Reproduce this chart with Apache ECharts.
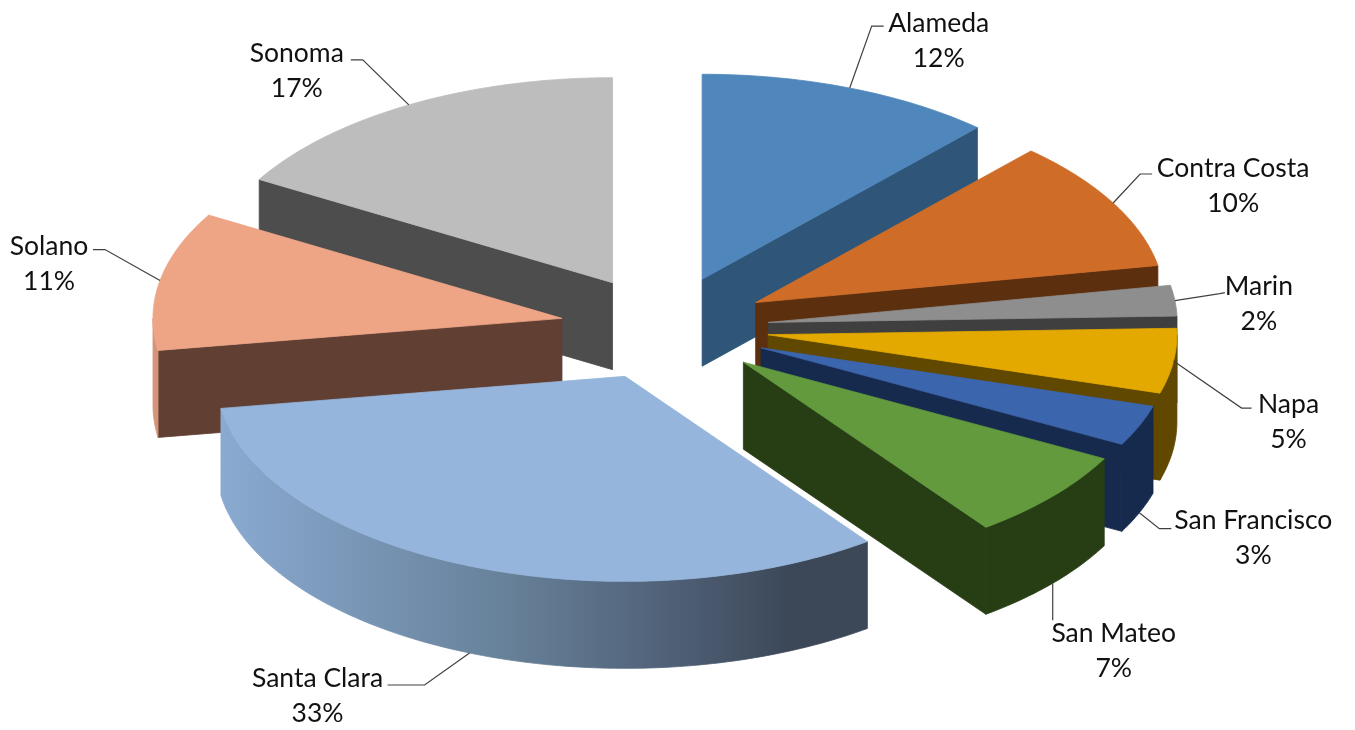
<!DOCTYPE html>
<html><head><meta charset="utf-8">
<style>html,body{margin:0;padding:0;background:#fff}#c{width:1355px;height:730px}</style>
<script src="https://cdn.jsdelivr.net/npm/echarts@6/dist/echarts.min.js"></script>
</head><body><div id="c"></div>
<script>
var counties = ['Alameda','Contra Costa','Marin','Napa','San Francisco','San Mateo','Santa Clara','Solano','Sonoma'];
var shares = [11.75, 10.35, 2.4, 5.1, 3.2, 7.1, 32.6, 10.9, 16.6];
var drawOrder = [8, 0, 1, 7, 2, 3, 4, 5, 6];
var topColors = ['#4f86bb','#cf6d28','#8e8e8e','#e3a900','#3b65ad','#629a3d','#95b5dc','#eda586','#bdbdbd'];
var wallColors = ['#2f5578','#5c2f0f','#3f3f3f','#604800','#162a4d','#273e15','#3c4858','#614033','#4d4d4d'];
var rimColors = ['#2f5578','#5c2f0f','#3f3f3f','#604800','#162a4d','#273e15','#3c4858','#d5957a','#4d4d4d'];
// Leader elbow and label centre, relative to the slice's anchor on the pie edge
var leaderElbows = [[22,-62],[27,-29],[45,-7],[68,47],[20,16],[0,37],[-45,32],[-55,-31],[-46,-45]];
var leaderEnds = [[34,-62],[39,-29],[50,-8],[78,47],[32,16],[0,37],[-82,32],[-67,-31],[-58,-45]];
var labelOffsets = [[89,-50],[120,-20],[84,0],[115,58],[114,22],[61,65],[-152,40],[-111,-20],[-112,-37]];

var CX = 664.5, CY = 328, RX = 409, RY = 205, DEPTH = 87, EXPLODE = 0.255;
var FONT = '26.5px Lato, "Open Sans", sans-serif';
var total = shares.reduce(function (a, b) { return a + b; }, 0);

function angleBefore(i) {
  var s = 0;
  for (var k = 0; k < i; k++) s += shares[k];
  return s / total * 360;
}
function rad(d) { return d * Math.PI / 180; }

function renderSlice(params, api) {
  var i = api.value(1);
  var a0 = angleBefore(i), a1 = a0 + api.value(0) / total * 360, mid = (a0 + a1) / 2;
  var ax = CX + EXPLODE * RX * Math.sin(rad(mid));
  var ay = CY - EXPLODE * RY * Math.cos(rad(mid));
  function edge(d, drop) {
    return [ax + RX * Math.sin(rad(d)), ay - RY * Math.cos(rad(d)) + (drop || 0)];
  }
  function arc(from, to, drop) {
    var pts = [], n = Math.max(2, Math.ceil(Math.abs(to - from)));
    for (var k = 0; k <= n; k++) pts.push(edge(from + (to - from) * k / n, drop));
    return pts;
  }
  function poly(points, fill) {
    return { type: 'polygon', shape: { points: points }, style: { fill: fill, stroke: fill, lineWidth: 0.8 } };
  }
  var children = [];
  function radialWall(d) {
    var e = edge(d);
    children.push(poly([[ax, ay], e, [e[0], e[1] + DEPTH], [ax, ay + DEPTH]], wallColors[i]));
  }
  if (Math.sin(rad(a0)) < 0) radialWall(a0);
  if (Math.sin(rad(a1)) > 0) radialWall(a1);
  var r0 = Math.max(a0, 90), r1 = Math.min(a1, 270);
  if (r1 > r0) {
    var rimFill = rimColors[i];
    if (counties[i] === 'Santa Clara') {
      rimFill = new echarts.graphic.LinearGradient(0, 0, 1, 0, [
        { offset: 0, color: '#8aaad1' }, { offset: 0.45, color: '#668098' },
        { offset: 0.7, color: '#4f6076' }, { offset: 0.88, color: '#3c4858' }, { offset: 1, color: '#3c4858' }
      ]);
    }
    children.push(poly(arc(r0, r1, 0).concat(arc(r1, r0, DEPTH)), rimFill));
  }
  children.push(poly([[ax, ay]].concat(arc(a0, a1, 0)), topColors[i]));

  // Leader line and label
  var anchor = edge(mid, mid > 105 && mid < 255 ? DEPTH : 0);
  var el = leaderElbows[i], en = leaderEnds[i], lo = labelOffsets[i];
  children.push({
    type: 'polyline',
    shape: { points: [anchor, [anchor[0] + el[0], anchor[1] + el[1]], [anchor[0] + en[0], anchor[1] + en[1]]] },
    style: { fill: 'none', stroke: '#404040', lineWidth: 1.2 }
  });
  children.push({
    type: 'text',
    style: {
      text: counties[i] + '\n' + Math.round(api.value(0)) + '%',
      x: anchor[0] + lo[0], y: anchor[1] + lo[1] + 3,
      align: 'center', verticalAlign: 'middle',
      font: FONT, lineHeight: 35, fill: '#111'
    }
  });
  return { type: 'group', children: children };
}

var chart = echarts.init(document.getElementById('c'));
chart.setOption({
  animation: false,
  backgroundColor: '#fff',
  series: [{
    type: 'custom',
    coordinateSystem: 'none',
    silent: true,
    renderItem: renderSlice,
    data: drawOrder.map(function (i) { return [shares[i], i]; })
  }]
});
</script></body></html>
